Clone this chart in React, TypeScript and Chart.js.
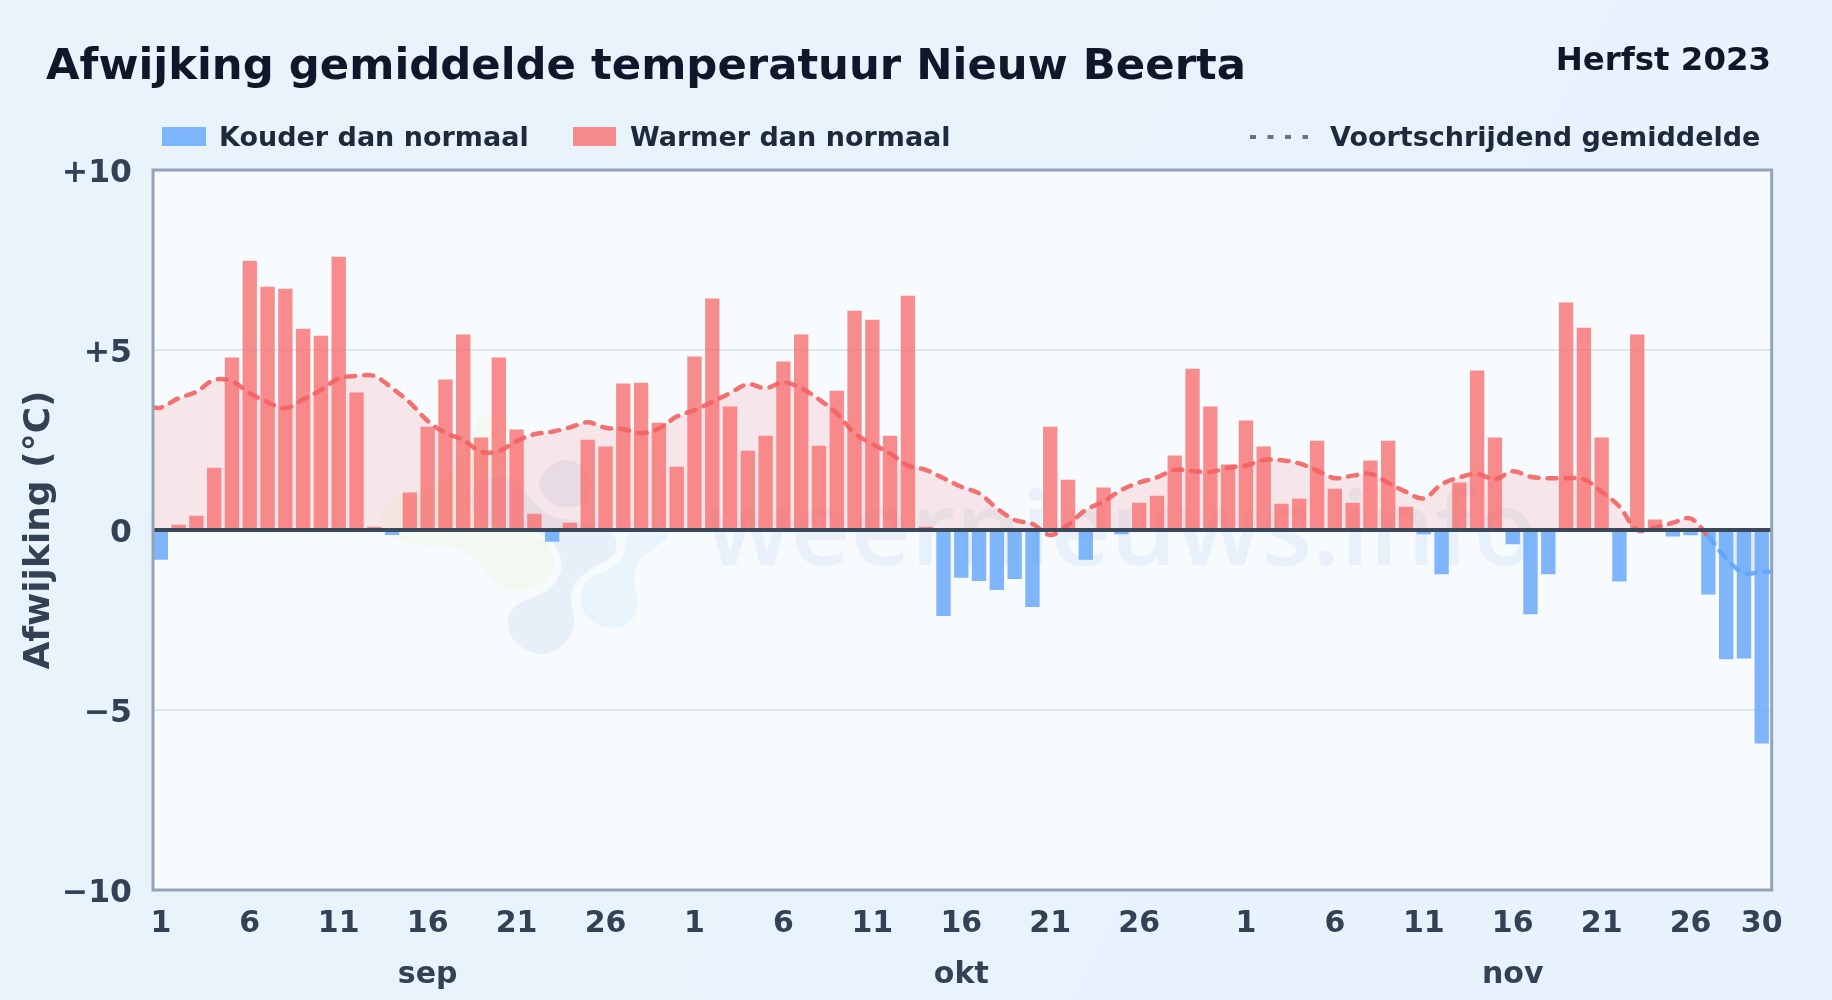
import React, { useEffect, useRef } from "react";
import { Chart, registerables } from "chart.js";

Chart.register(...registerables);

const FONT = '"DejaVu Sans"';

const sep = [-0.82, 0.14, 0.39, 1.72, 4.78, 7.47, 6.75, 6.69, 5.58, 5.39, 7.58, 3.81, 0.08, -0.13, 1.03, 2.86, 4.17, 5.42, 2.56, 4.78, 2.78, 0.44, -0.32, 0.19, 2.5, 2.31, 4.06, 4.08, 2.97, 1.75];
const okt = [4.81, 6.42, 3.42, 2.19, 2.61, 4.67, 5.42, 2.33, 3.86, 6.08, 5.83, 2.61, 6.5, 0.08, -2.38, -1.32, -1.41, -1.66, -1.35, -2.13, 2.86, 1.39, -0.82, 1.17, -0.11, 0.75, 0.94, 2.06, 4.47, 3.42, 1.81];
const nov = [3.03, 2.31, 0.72, 0.86, 2.47, 1.14, 0.75, 1.92, 2.47, 0.64, -0.11, -1.22, 1.31, 4.42, 2.56, -0.39, -2.33, -1.22, 6.31, 5.61, 2.56, -1.42, 5.42, 0.28, -0.17, -0.14, -1.78, -3.58, -3.56, -5.92];

const gemSep = [3.4, 3.66, 3.84, 4.17, 4.13, 3.8, 3.55, 3.38, 3.63, 3.89, 4.21, 4.28, 4.28, 3.94, 3.54, 3.03, 2.7, 2.5, 2.18, 2.19, 2.47, 2.66, 2.73, 2.85, 2.99, 2.84, 2.8, 2.69, 2.82, 3.15];
const gemOkt = [3.33, 3.56, 3.8, 4.05, 3.94, 4.1, 3.94, 3.63, 3.24, 2.69, 2.39, 2.13, 1.79, 1.67, 1.44, 1.2, 1.02, 0.6, 0.28, 0.17, -0.14, 0.14, 0.56, 0.79, 1.11, 1.32, 1.46, 1.67, 1.64, 1.61, 1.73];
const gemNov = [1.79, 1.94, 1.94, 1.85, 1.65, 1.44, 1.51, 1.56, 1.31, 1.06, 0.88, 1.27, 1.46, 1.56, 1.41, 1.63, 1.48, 1.44, 1.44, 1.41, 1.06, 0.65, 0, 0.07, 0.2, 0.32, -0.19, -0.79, -1.2, -1.16];

const afwijking = [...sep, ...okt, ...nov];
const gemiddelde = [...gemSep, ...gemOkt, ...gemNov];

const tickPositions = [1, 6, 11, 16, 21, 26, 31, 36, 41, 46, 51, 56, 62, 67, 72, 77, 82, 87, 91];
const tickLabels = ["1", "6", "11", ["16", "sep"], "21", "26", "1", "6", "11", ["16", "okt"], "21", "26", "1", "6", "11", ["16", "nov"], "21", "26", "30"];

const TITLE = "Afwijking gemiddelde temperatuur Nieuw Beerta";
const SUBTITLE = "Herfst 2023";
const WATERMARK = "weernieuws.info";
const LEGEND_KOUD = "Kouder dan normaal";
const LEGEND_WARM = "Warmer dan normaal";
const LEGEND_GEM = "Voortschrijdend gemiddelde";

const X_MIN = 0.56;
const X_MAX = 91.56;

// Watermark logo outlines, in reference pixels
const toPx = (p: number[][]) => p.map(([x, y]) => [360 + x / 3, 400 + y / 3]);
const blobGreen = toPx([[60, 340], [120, 275], [230, 260], [320, 150], [350, 50], [410, 40], [460, 90], [440, 200], [330, 240], [340, 370], [530, 395], [590, 460], [570, 540], [480, 580], [410, 555], [360, 490], [300, 440], [200, 435], [120, 430], [70, 390]]);
const blobGrey = toPx([[330, 240], [450, 225], [510, 290], [560, 350], [700, 370], [770, 400], [770, 470], [690, 505], [640, 550], [630, 600], [650, 680], [600, 750], [530, 770], [450, 720], [440, 640], [490, 600], [570, 575], [610, 510], [595, 440], [530, 390], [340, 370]]);
const blobInner = toPx([[530, 230], [610, 170], [680, 200], [700, 300], [620, 330], [550, 300]]);
const blobLight = toPx([[790, 395], [925, 395], [920, 420], [840, 470], [815, 530], [840, 620], [810, 670], [750, 690], [680, 660], [655, 590], [680, 530], [770, 505], [800, 440]]);

function smoothBlob(ctx: CanvasRenderingContext2D, pts: number[][], fill: string) {
  ctx.beginPath();
  const n = pts.length;
  ctx.moveTo((pts[n - 1][0] + pts[0][0]) / 2, (pts[n - 1][1] + pts[0][1]) / 2);
  for (let i = 0; i < n; i++) {
    const a = pts[i];
    const b = pts[(i + 1) % n];
    ctx.quadraticCurveTo(a[0], a[1], (a[0] + b[0]) / 2, (a[1] + b[1]) / 2);
  }
  ctx.closePath();
  ctx.fillStyle = fill;
  ctx.fill();
}

const pagePlugin = {
  id: "page",
  beforeDraw(chart: any) {
    const { ctx, width, height, chartArea: a } = chart;
    ctx.save();
    const g = ctx.createLinearGradient(0, 0, width, height);
    g.addColorStop(0, "#e9f3fc");
    g.addColorStop(1, "#e8f2fc");
    ctx.fillStyle = g;
    ctx.fillRect(0, 0, width, height);
    ctx.fillStyle = "#f7fbfe";
    ctx.fillRect(a.left, a.top, a.right - a.left, a.bottom - a.top);

    // watermark
    smoothBlob(ctx, blobGreen, "#f3f9f0");
    smoothBlob(ctx, blobGrey, "#e7f0f9");
    smoothBlob(ctx, blobInner, "#e6eef8");
    smoothBlob(ctx, blobLight, "#e9f4fd");
    ctx.font = `600 104px "Open Sans"`;
    ctx.fillStyle = "#e8f1fa";
    ctx.textAlign = "left";
    ctx.textBaseline = "alphabetic";
    ctx.fillText(WATERMARK, 706, 565);

    // title block
    ctx.fillStyle = "#0f172a";
    ctx.font = `bold 43.35px ${FONT}`;
    ctx.fillText(TITLE, 46, 79);
    ctx.textAlign = "right";
    ctx.font = `bold 32.4px ${FONT}`;
    ctx.fillText(SUBTITLE, 1771, 70);

    // legend
    const ds = chart.data.datasets;
    ctx.textAlign = "left";
    ctx.textBaseline = "alphabetic";
    ctx.font = `bold 27px ${FONT}`;
    ctx.fillStyle = ds[0].backgroundColor;
    ctx.fillRect(162, 127, 44, 19);
    ctx.fillStyle = ds[1].backgroundColor;
    ctx.fillRect(573, 127, 43, 19);
    ctx.fillStyle = "#1e293b";
    ctx.fillText(ds[0].label, 219, 146);
    ctx.fillText(ds[1].label, 630, 146);
    ctx.fillText(ds[2].label, 1330, 146);
    ctx.strokeStyle = "#64748b";
    ctx.lineWidth = 4;
    ctx.setLineDash([6, 11.5]);
    ctx.beginPath();
    ctx.moveTo(1250, 137);
    ctx.lineTo(1308, 137);
    ctx.stroke();
    ctx.restore();
  },
  afterDatasetsDraw(chart: any) {
    const { ctx, chartArea: a, scales } = chart;
    ctx.save();
    const y0 = scales.y.getPixelForValue(0);
    ctx.strokeStyle = "#3a485c";
    ctx.lineWidth = 4;
    ctx.beginPath();
    ctx.moveTo(a.left, y0);
    ctx.lineTo(a.right, y0);
    ctx.stroke();
    ctx.strokeStyle = "#94a3b8";
    ctx.lineWidth = 3;
    ctx.strokeRect(a.left, a.top, a.right - a.left, a.bottom - a.top);
    ctx.restore();
  },
};

export default function App() {
  const ref = useRef<HTMLCanvasElement>(null);

  useEffect(() => {
    document.body.style.margin = "0";
    const days = afwijking.map((_, i) => i + 1);
    const lineData = [
      { x: X_MIN, y: gemiddelde[0] },
      ...gemiddelde.map((y, i) => ({ x: days[i], y })),
      { x: X_MAX, y: gemiddelde[gemiddelde.length - 1] },
    ];
    const chart = new Chart(ref.current!, {
      type: "bar",
      data: {
        datasets: [
          {
            label: LEGEND_KOUD,
            data: afwijking.map((y, i) => ({ x: days[i], y: y < 0 ? y : null })),
            backgroundColor: "rgba(96,165,250,0.8)",
            barThickness: 13.7,
            grouped: false,
            order: 2,
          },
          {
            label: LEGEND_WARM,
            data: afwijking.map((y, i) => ({ x: days[i], y: y >= 0 ? y : null })),
            backgroundColor: "rgba(248,113,113,0.8)",
            barThickness: 13.7,
            grouped: false,
            order: 2,
          },
          {
            type: "line",
            label: LEGEND_GEM,
            data: lineData,
            borderColor: "rgba(243,98,98,0.9)",
            segment: {
              borderColor: (s: any) => (s.p0.parsed.y < 0 && s.p1.parsed.y < 0 ? "rgba(96,165,250,0.9)" : undefined),
            },
            borderWidth: 4.5,
            borderDash: [9, 9],
            borderCapStyle: "round",
            pointRadius: 0,
            tension: 0.35,
            fill: { target: { value: 0 }, above: "rgba(248,113,113,0.15)", below: "rgba(96,165,250,0.15)" },
            order: 1,
          },
        ] as any,
      },
      options: {
        animation: false,
        responsive: false,
        devicePixelRatio: 1,
        layout: { padding: { top: 170, right: 60.3, left: 0, bottom: 0 } },
        plugins: { legend: { display: false }, title: { display: false }, tooltip: { enabled: false } },
        scales: {
          x: {
            type: "linear",
            offset: false,
            min: X_MIN,
            max: X_MAX,
            grid: { display: false },
            border: { display: false },
            afterFit: (s: any) => { s.height = 110; },
            afterBuildTicks: (s: any) => { s.ticks = tickPositions.map((value) => ({ value })); },
            ticks: {
              autoSkip: false,
              maxRotation: 0,
              padding: 0,
              color: "#334155",
              font: { family: FONT, weight: "bold", size: 30, lineHeight: 1.72 },
              callback: (v: any) => tickLabels[tickPositions.indexOf(v)],
            },
          },
          y: {
            min: -10,
            max: 10,
            grid: { color: "#dfe6ec", lineWidth: 2, drawTicks: false },
            border: { display: false },
            afterFit: (s: any) => { s.width = 153; },
            title: {
              display: true,
              text: "Afwijking (°C)",
              color: "#334155",
              padding: { top: 18, bottom: 0 },
              font: { family: FONT, weight: "bold", size: 36 },
            },
            ticks: {
              stepSize: 5,
              padding: 21,
              color: "#334155",
              // the empty first line moves the label down a few pixels off the grid line
              font: { family: FONT, weight: "bold", size: 31.5, lineHeight: 0.22 },
              callback: (v: any) => ["", v > 0 ? `+${v}` : v < 0 ? `\u2212${-v}` : "0"],
            },
          },
        },
      } as any,
      plugins: [pagePlugin],
    });
    return () => chart.destroy();
  }, []);

  return <canvas ref={ref} width={1832} height={1000} style={{ display: "block" }} />;
}
